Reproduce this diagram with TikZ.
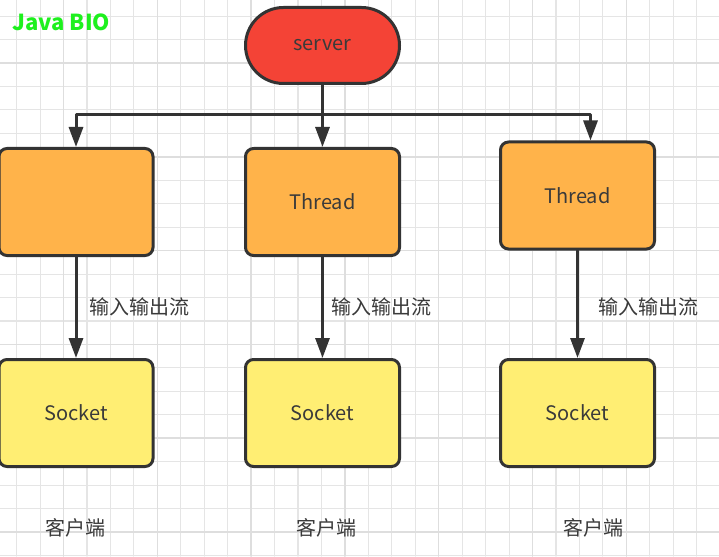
\documentclass[tikz,border=0pt]{standalone}
\usepackage{fontspec}
\setmainfont{Noto Sans CJK SC}
\usepackage{tikz}
\usetikzlibrary{arrows.meta}
\definecolor{serverred}{HTML}{F44336}
\definecolor{threadorange}{HTML}{FFB34A}
\definecolor{socketyellow}{HTML}{FFEE73}
\definecolor{bordergray}{HTML}{333333}
\definecolor{textgray}{HTML}{3A3A3A}
\definecolor{biogreen}{HTML}{1EF01E}

\begin{document}
\begin{tikzpicture}[x=1pt,y=-1pt,line cap=round,line join=round,>={Triangle[length=20pt,width=14pt]},
  gridline/.style={color=black!10,line width=1.1pt},
  gridthick/.style={color=black!13,line width=1.5pt},
  box/.style={draw=bordergray,line width=3pt,rounded corners=8pt,minimum width=154pt,minimum height=107pt,inner sep=0pt,text=textgray,font=\fontsize{20}{24}\selectfont},
  threadbox/.style={box,fill=threadorange},
  socketbox/.style={box,fill=socketyellow},
  flow/.style={color=bordergray,line width=3pt},
  lbl/.style={text=textgray,font=\fontsize{20}{24}\selectfont}]
\useasboundingbox (0,0) rectangle (719,556);
\clip (0,0) rectangle (719,556);
\fill[white] (0,0) rectangle (719,556);
\foreach \k in {0,...,30} \draw[gridline] ({16.6+23.45*\k},0) -- ({16.6+23.45*\k},556);
\foreach \k in {0,...,23} \draw[gridline] (0,{16.1+23.45*\k}) -- (719,{16.1+23.45*\k});
\foreach \k in {2,6,...,30} \draw[gridthick] ({16.6+23.45*\k},0) -- ({16.6+23.45*\k},556);
\foreach \k in {2,6,...,22} \draw[gridthick] (0,{16.1+23.45*\k}) -- (719,{16.1+23.45*\k});

\node[font=\fontsize{22}{26}\selectfont\bfseries,text=biogreen,anchor=west] (title) at (9,22) {Java BIO};
\node[box,fill=serverred,rounded corners=38pt,minimum height=76pt] (server) at (322.5,45.5) {server};

\node[threadbox] (t1) at (76,202) {};
\node[threadbox] (t2) at (322.5,202) {Thread};
\node[threadbox] (t3) at (577.5,195.5) {Thread};

\node[socketbox] (s1) at (76,413) {Socket};
\node[socketbox] (s2) at (322.5,413) {Socket};
\node[socketbox] (s3) at (577.5,413) {Socket};

\coordinate (split) at (322.5,115);
\draw[flow] (server) -- (split);
\draw[flow,->] (split) -| (t1.north);
\draw[flow,->] (split) -- (t2.north);
\draw[flow,->] (split) -| ([xshift=13pt]t3.north);

\draw[flow,->] (t1) -- (s1);
\draw[flow,->] (t2) -- (s2);
\draw[flow,->] (t3) -- (s3);

\node[lbl,anchor=west] (io1) at (86,307) {输入输出流};
\node[lbl,anchor=west] (io2) at (328,307) {输入输出流};
\node[lbl,anchor=west] (io3) at (595,307) {输入输出流};

\node[lbl] (c1) at (75,528) {客户端};
\node[lbl] (c2) at (326,528) {客户端};
\node[lbl] (c3) at (593,528) {客户端};
\end{tikzpicture}
\end{document}
